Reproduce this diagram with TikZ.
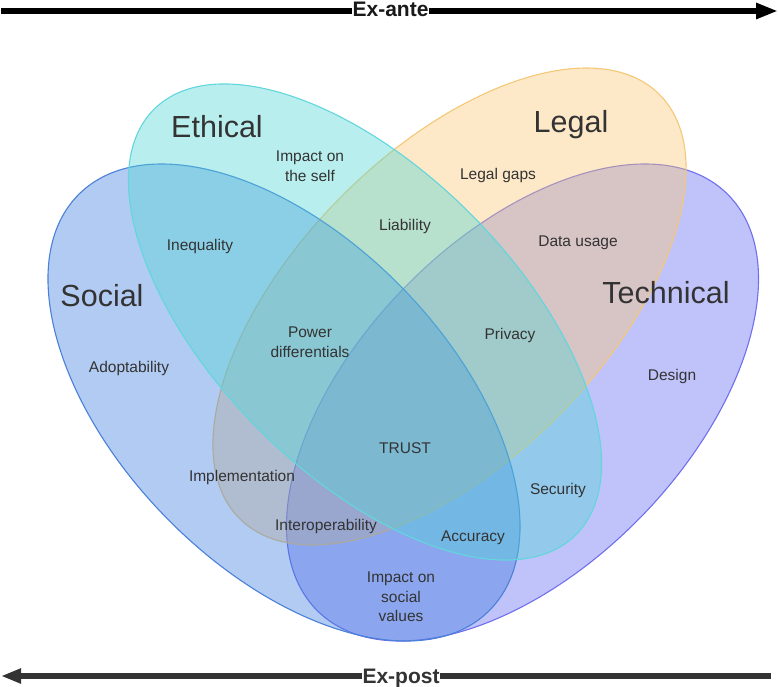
\documentclass[tikz,border=0pt]{standalone}
\usepackage{fontspec}
\setmainfont{Liberation Sans}
\usetikzlibrary{arrows.meta}
\definecolor{txtc}{HTML}{333333}
\definecolor{socF}{RGB}{60,125,222}
\definecolor{socD}{RGB}{74,128,216}
\definecolor{ethF}{RGB}{80,213,213}
\definecolor{ethD}{RGB}{98,214,220}
\definecolor{legF}{RGB}{250,198,118}
\definecolor{legD}{RGB}{245,200,119}
\definecolor{tecF}{RGB}{98,103,243}
\definecolor{tecD}{RGB}{112,112,238}
\definecolor{postc}{HTML}{333333}
\begin{document}
\begin{tikzpicture}[x=1pt,y=-1pt,
  setshape/.style={fill opacity=0.4, line width=1.1pt},
  lab/.style={text=txtc, font=\fontsize{15.5}{19.5}\selectfont, align=center, inner sep=0pt},
  biglab/.style={text=txtc, font=\fontsize{30.5}{36}\selectfont, inner sep=0pt},
  axislab/.style={font=\bfseries\fontsize{21}{25}\selectfont, fill=white, inner sep=0.4pt},
  axisline/.style={line width=6pt}]
\useasboundingbox (0,0) rectangle (778,687);

% Technical
\begin{scope}[shift={(522.5,402.5)}, rotate=45.58]
\filldraw[setshape, fill=tecF, draw=tecD] (0,0) ellipse [x radius=292.3pt, y radius=164.7pt];
\end{scope}
% Legal
\begin{scope}[shift={(449.5,306.5)}, rotate=45.4]
\filldraw[setshape, fill=legF, draw=legD] (0,0) ellipse [x radius=298.4pt, y radius=154.2pt];
\end{scope}
% Social
\begin{scope}[shift={(284,402.5)}, rotate=-45.58]
\filldraw[setshape, fill=socF, draw=socD] (0,0) ellipse [x radius=292.3pt, y radius=164.7pt];
\end{scope}
% Ethical
\begin{scope}[shift={(365,322)}, rotate=-45.3]
\filldraw[setshape, fill=ethF, draw=ethD] (0,0) ellipse [x radius=299.6pt, y radius=151.1pt];
\end{scope}

% set titles
\node[biglab] (ethical) at (217,127) {Ethical};
\node[biglab] (legal) at (571,125) {Legal};
\node[biglab] (social) at (102,296) {Social};
\node[biglab] (technical) at (666,293) {Technical};

% region labels
\node[lab] (self) at (310,166) {Impact on\\the self};
\node[lab] (gaps) at (498,175) {Legal gaps};
\node[lab] (liab) at (405,226) {Liability};
\node[lab] (ineq) at (200,246) {Inequality};
\node[lab] (data) at (578,243) {Data usage};
\node[lab] (power) at (310,342) {Power\\differentials};
\node[lab] (priv) at (510,335) {Privacy};
\node[lab] (adopt) at (129,368) {Adoptability};
\node[lab] (design) at (672,376) {Design};
\node[lab] (trust) at (405,448) {TRUST};
\node[lab] (impl) at (242,477) {Implementation};
\node[lab] (secu) at (558,490) {Security};
\node[lab] (inter) at (326,526) {Interoperability};
\node[lab] (accu) at (473,538) {Accuracy};
\node[lab] (social-values) at (401,597) {Impact on\\social\\values};

% ex-ante axis
\coordinate (ante-s) at (1,11);
\coordinate (ante-e) at (778,11);
\draw[axisline, black, -{Triangle[length=22pt,width=15pt]}] (ante-s) -- (ante-e);
\node[axislab, text=black!90] (ante) at (390.5,9.5) {Ex-ante};

% ex-post axis
\coordinate (post-s) at (771,676);
\coordinate (post-e) at (1,676);
\draw[axisline, line width=5.5pt, postc, -{Triangle[length=20pt,width=14pt]}] (post-s) -- (post-e);
\node[axislab, text=postc, anchor=base] (post) at (401,683) {Ex-post};
\end{tikzpicture}
\end{document}
